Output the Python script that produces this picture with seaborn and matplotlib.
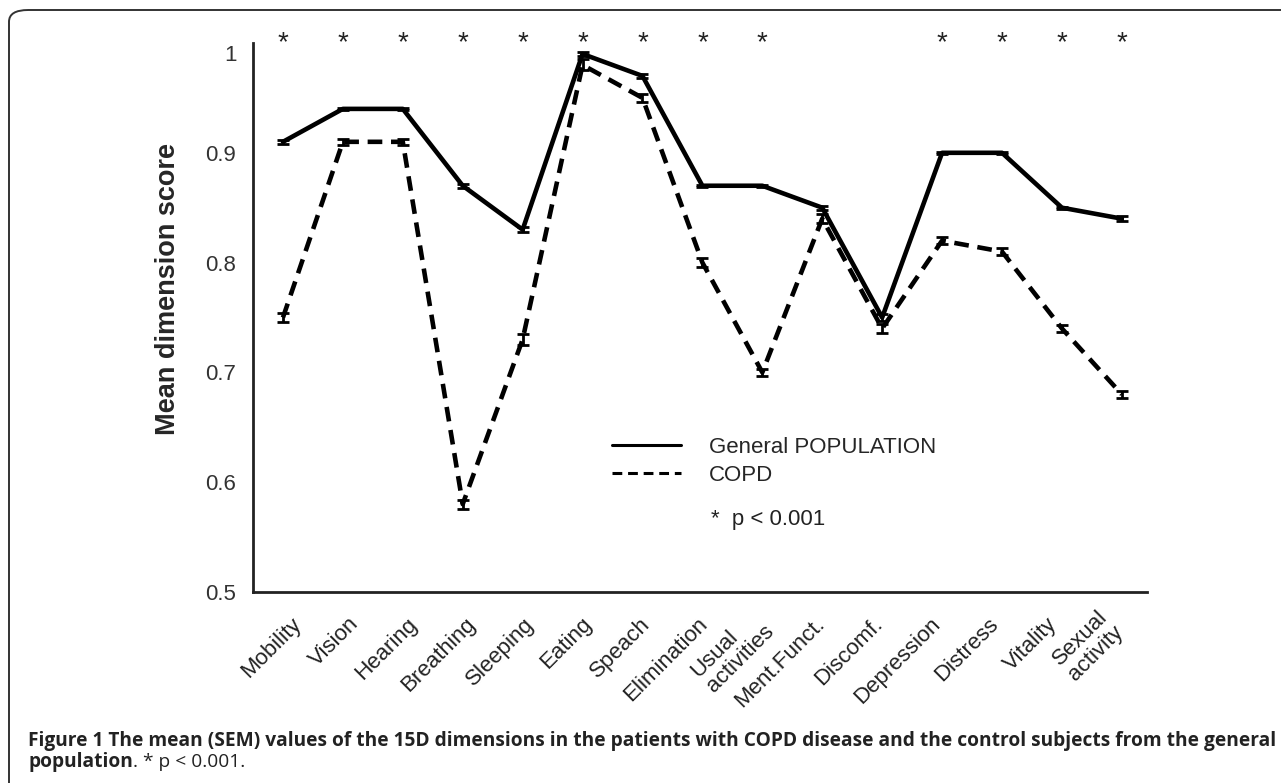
import numpy as np
import pandas as pd
import matplotlib
matplotlib.use("Agg")
import matplotlib.pyplot as plt
from matplotlib.patches import FancyBboxPatch
from matplotlib.lines import Line2D
import matplotlib.transforms as mtransforms
import seaborn as sns

# values (mean and SEM of each 15D dimension)
dimensions = ["Mobility", "Vision", "Hearing", "Breathing", "Sleeping", "Eating", "Speach",
              "Elimination", "Usual\nactivities", "Ment.Funct.", "Discomf.", "Depression",
              "Distress", "Vitality", "Sexual\nactivity"]
general_mean = [0.91, 0.94, 0.94, 0.87, 0.83, 0.99, 0.97, 0.87, 0.87, 0.85, 0.75, 0.90, 0.90, 0.85, 0.84]
general_sem = [0.002, 0.001, 0.001, 0.002, 0.002, 0.002, 0.002, 0.001, 0.001, 0.002, 0.003, 0.001, 0.001, 0.001, 0.002]
copd_mean = [0.75, 0.91, 0.91, 0.58, 0.73, 0.98, 0.95, 0.80, 0.70, 0.84, 0.74, 0.82, 0.81, 0.74, 0.68]
copd_sem = [0.004, 0.003, 0.003, 0.004, 0.005, 0.005, 0.004, 0.004, 0.003, 0.004, 0.004, 0.003, 0.003, 0.003, 0.003]
significant = [True, True, True, True, True, True, True, True, True, False, False, True, True, True, True]
ytick_values = [0.5, 0.6, 0.7, 0.8, 0.9, 1.0]
ytick_labels = ["0.5", "0.6", "0.7", "0.8", "0.9", "1"]

W, H = 1281, 783
sns.set_style("white")
plt.rcParams["font.family"] = ["Liberation Sans", "DejaVu Sans"]

x = np.arange(len(dimensions))
df = pd.concat([
    pd.DataFrame({"x": x, "score": general_mean, "sem": general_sem, "group": "General POPULATION"}),
    pd.DataFrame({"x": x, "score": copd_mean, "sem": copd_sem, "group": "COPD"}),
])

fig = plt.figure(figsize=(W / 100, H / 100), dpi=100)
ax = fig.add_axes([253 / W, 1 - 592 / H, (1147 - 253) / W, (592 - 43) / H])

sns.lineplot(data=df, x="x", y="score", style="group", style_order=["General POPULATION", "COPD"],
             dashes={"General POPULATION": "", "COPD": (3.2, 1.9)}, color="black", linewidth=3.3,
             legend=False, ax=ax, zorder=3)
for g, sub in df.groupby("group"):
    ax.errorbar(sub["x"], sub["score"], yerr=sub["sem"], fmt="none", ecolor="black",
                elinewidth=2, capsize=4, capthick=2, zorder=4)

ax.set_xlim(-0.5, 14.42)
ax.set_ylim(0.5, 1.0)
ax.set_yticks(ytick_values)
ax.set_yticklabels(ytick_labels)
ax.set_xticks(x)
ax.tick_params(axis="x", length=0, pad=0)
ax.tick_params(axis="y", length=6, width=2, color="#aaaaaa", labelsize=16, labelcolor="#333333", pad=6)
ax.set_xticklabels(dimensions, rotation=45, ha="right", va="center", rotation_mode="anchor",
                   multialignment="left", fontsize=16, color="#222222", linespacing=1.05)
# the printed labels sit on a slightly tighter pitch than the data points
for i, lab in enumerate(ax.get_xticklabels()):
    dx = 15 - 25 * i / 14
    lab.set_transform(lab.get_transform() +
                      mtransforms.ScaledTranslation(dx / 100, -29 / 100, fig.dpi_scale_trans))
ylabs = ax.get_yticklabels()
ylabs[-1].set_transform(ylabs[-1].get_transform() +
                        mtransforms.ScaledTranslation(0, -10 / 100, fig.dpi_scale_trans))
for side in ["top", "right"]:
    ax.spines[side].set_visible(False)
for side in ["left", "bottom"]:
    ax.spines[side].set_color("#222222")
    ax.spines[side].set_linewidth(2)
ax.set_xlabel("")
ax.set_ylabel("Mean dimension score", fontsize=19.5, fontweight="bold")
ax.yaxis.set_label_coords((181 - 253) / (1147 - 253), (592 - 289) / (592 - 43))

for xi, sig in zip(x, significant):
    if sig:
        ax.text(xi, 1.0, "*", ha="center", va="center", fontsize=20, color="#222222",
                transform=ax.transData, clip_on=False)

handles = [Line2D([], [], color="black", lw=2.2),
           Line2D([], [], color="black", lw=2.2, dashes=(3.2, 1.9))]
fig.legend(handles, ["General POPULATION", "COPD"], loc="upper left",
           bbox_to_anchor=(612 / W, 1 - 437 / H), frameon=False, fontsize=16,
           borderpad=0, borderaxespad=0, handlelength=3.1, handletextpad=1.25, labelspacing=0.3)
fig.text(711 / W, 1 - 520 / H, "*  p < 0.001", fontsize=16, va="center", ha="left", color="#222222")

# caption
cap_font = ["Open Sans", "DejaVu Sans"]
fig.text(28 / W, 1 - 746 / H,
         "Figure 1 The mean (SEM) values of the 15D dimensions in the patients with COPD disease and the control subjects from the general",
         fontsize=13.75, fontweight="bold", family=cap_font, va="baseline", ha="left", color="#222222")
t = fig.text(28 / W, 1 - 767 / H, "population", fontsize=13.75, fontweight="bold", family=cap_font,
             va="baseline", ha="left", color="#222222")
fig.canvas.draw()
bb = t.get_window_extent()
fig.text(bb.x1 / W, 1 - 767 / H, ". * p < 0.001.", fontsize=13.75, family=cap_font,
         va="baseline", ha="left", color="#222222")

# rounded frame around the figure (runs off the right and bottom edges)
frame = FancyBboxPatch((9 / W, -0.05), 1.2, 1 - 10 / H + 0.05,
                       boxstyle="round,pad=0,rounding_size=0.015", transform=fig.transFigure,
                       facecolor="none", edgecolor="#333333", linewidth=1.4, clip_on=False)
fig.patches.append(frame)

fig.savefig("out.png", dpi=100)
